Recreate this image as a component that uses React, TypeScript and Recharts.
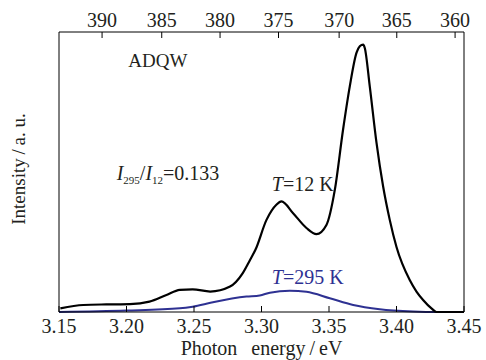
import { LineChart, Line, XAxis, YAxis, ReferenceDot, Label } from "recharts";

// 12 K spectrum (photon energy in eV, intensity in a.u.)
const energy12K = [
  3.151, 3.168, 3.185, 3.2025, 3.217, 3.2296, 3.2395, 3.249, 3.262, 3.2767, 3.286, 3.2915, 3.2955,
  3.3037, 3.311, 3.3148, 3.3234, 3.3333, 3.3407, 3.3481, 3.3543, 3.3604, 3.3654, 3.3704, 3.3728,
  3.3753, 3.3765, 3.3802, 3.3852, 3.3901, 3.395, 3.4, 3.4098, 3.4148, 3.4197, 3.4259, 3.4296, 3.45,
];
const intensity12K = [
  0.013, 0.025, 0.027, 0.028, 0.037, 0.061, 0.079, 0.081, 0.073, 0.091, 0.138, 0.186, 0.222,
  0.329, 0.383, 0.395, 0.353, 0.3, 0.278, 0.311, 0.436, 0.651, 0.806, 0.926, 0.949,
  0.955, 0.943, 0.806, 0.604, 0.448, 0.329, 0.232, 0.114, 0.073, 0.043, 0.013, 0, 0,
];

// 295 K spectrum
const energy295K = [
  3.15, 3.2, 3.2395, 3.249, 3.264, 3.2889, 3.2987, 3.3062, 3.321, 3.3333, 3.3506, 3.3679, 3.3876, 3.4123, 3.43, 3.45,
];
const intensity295K = [
  0, 0.005, 0.013, 0.019, 0.035, 0.055, 0.059, 0.069, 0.076, 0.072, 0.049, 0.025, 0.01, 0.002, 0, 0,
];

const energyTicks = [3.15, 3.2, 3.25, 3.3, 3.35, 3.4, 3.45];
// wavelength (nm) ticks on the top axis and where they sit on the energy scale
const wavelengthLabels = [390, 385, 380, 375, 370, 365, 360];
const wavelengthTickEnergies = [3.1819, 3.2261, 3.2693, 3.3126, 3.3575, 3.4002, 3.4434];

const data12K = energy12K.map((e, i) => ({ e, i: intensity12K[i] }));
const data295K = energy295K.map((e, i) => ({ e, i: intensity295K[i] }));

const FONT = "Liberation Serif, Times New Roman, serif";
const INK = "#231f20";
const BLUE = "#2e3192";
const GAP = 7;

function BottomTick({ x, y, payload }: any) {
  return (
    <g>
      <line x1={x} x2={x} y1={y - GAP} y2={y - GAP - 6} stroke="#000" />
      <text x={x} y={y} dy="0.71em" textAnchor="middle" fill={INK} style={{ fontFamily: FONT, fontSize: 20 }}>
        {Number(payload.value).toFixed(2)}
      </text>
    </g>
  );
}

function TopTick({ x, y, index }: any) {
  return (
    <g>
      <line x1={x} x2={x} y1={y + 5} y2={y + 11} stroke="#000" />
      <text x={x} y={y} textAnchor="middle" fill={INK} style={{ fontFamily: FONT, fontSize: 20 }}>
        {wavelengthLabels[index]}
      </text>
    </g>
  );
}

const note = (children: React.ReactNode, anchor: "start" | "middle", fill = INK, size = 20) =>
  ({ viewBox }: any) => (
    <text x={viewBox.x} y={viewBox.y} dy="0.35em" textAnchor={anchor} fill={fill} style={{ fontFamily: FONT, fontSize: size }}>
      {children}
    </text>
  );

export default function App() {
  return (
    <div style={{ position: "absolute", left: 0, top: 0, background: "#fff", fontFamily: FONT }}>
      <LineChart width={486} height={360} margin={{ top: 0, right: 0, bottom: 0, left: 0 }}>
        <XAxis
          xAxisId="bottom"
          dataKey="e"
          type="number"
          domain={[3.15, 3.45]}
          allowDataOverflow
          ticks={energyTicks}
          interval={0}
          height={48}
          tickSize={0}
          tickMargin={GAP}
          tickLine={false}
          axisLine={{ stroke: "#000" }}
          tick={<BottomTick />}
          label={
            <Label
              content={({ viewBox }: any) => (
                <text
                  x={viewBox.x + viewBox.width / 2}
                  y={viewBox.y + 43}
                  textAnchor="middle"
                  fill={INK}
                  style={{ fontFamily: FONT, fontSize: 20 }}
                >
                  Photon{"\u00a0\u00a0\u2009"}energy{"\u2009/\u2009"}eV
                </text>
              )}
            />
          }
        />
        <XAxis
          xAxisId="top"
          orientation="top"
          dataKey="e"
          type="number"
          domain={[3.15, 3.45]}
          allowDataOverflow
          ticks={wavelengthTickEnergies}
          interval={0}
          height={32}
          tickSize={0}
          tickMargin={5}
          tickLine={false}
          axisLine={{ stroke: "#000" }}
          tick={<TopTick />}
        />
        <YAxis
          yAxisId="left"
          type="number"
          domain={[0, 1]}
          width={59}
          tick={false}
          tickLine={false}
          axisLine={{ stroke: "#000" }}
          label={
            <Label
              content={({ viewBox }: any) => {
                const cx = 25;
                const cy = viewBox.y + viewBox.height / 2 - 3;
                return (
                  <text
                    x={cx}
                    y={cy}
                    transform={`rotate(-90 ${cx} ${cy})`}
                    textAnchor="middle"
                    fill={INK}
                    style={{ fontFamily: FONT, fontSize: 19 }}
                  >
                    Intensity{"\u2009/\u2009"}a. u.
                  </text>
                );
              }}
            />
          }
        />
        <YAxis
          yAxisId="right"
          orientation="right"
          type="number"
          domain={[0, 1]}
          width={22}
          tick={false}
          tickLine={false}
          axisLine={{ stroke: "#000" }}
        />
        <Line
          xAxisId="bottom"
          yAxisId="left"
          data={data295K}
          dataKey="i"
          type="monotone"
          stroke={BLUE}
          strokeWidth={2}
          dot={false}
          isAnimationActive={false}
        />
        <Line
          xAxisId="bottom"
          yAxisId="left"
          data={data12K}
          dataKey="i"
          type="monotone"
          stroke="#000"
          strokeWidth={2.2}
          dot={false}
          isAnimationActive={false}
        />
        <ReferenceDot
          xAxisId="bottom"
          yAxisId="left"
          x={3.2232}
          y={0.9}
          r={0}
          label={note("ADQW", "middle", INK, 19)}
        />
        <ReferenceDot
          xAxisId="bottom"
          yAxisId="left"
          x={3.1927}
          y={0.498}
          r={0}
          label={note(
            <>
              <tspan fontStyle="italic">I</tspan>
              <tspan fontSize={11} dy={4}>295</tspan>
              <tspan dy={-4}>/</tspan>
              <tspan fontStyle="italic">I</tspan>
              <tspan fontSize={11} dy={4}>12</tspan>
              <tspan dy={-4}>=0.133</tspan>
            </>,
            "start"
          )}
        />
        <ReferenceDot
          xAxisId="bottom"
          yAxisId="left"
          x={3.3076}
          y={0.458}
          r={0}
          label={note(
            <>
              <tspan fontStyle="italic">T</tspan>=12 K
            </>,
            "start"
          )}
        />
        <ReferenceDot
          xAxisId="bottom"
          yAxisId="left"
          x={3.3076}
          y={0.126}
          r={0}
          label={note(
            <>
              <tspan fontStyle="italic">T</tspan>=295 K
            </>,
            "start",
            BLUE
          )}
        />
      </LineChart>
    </div>
  );
}
